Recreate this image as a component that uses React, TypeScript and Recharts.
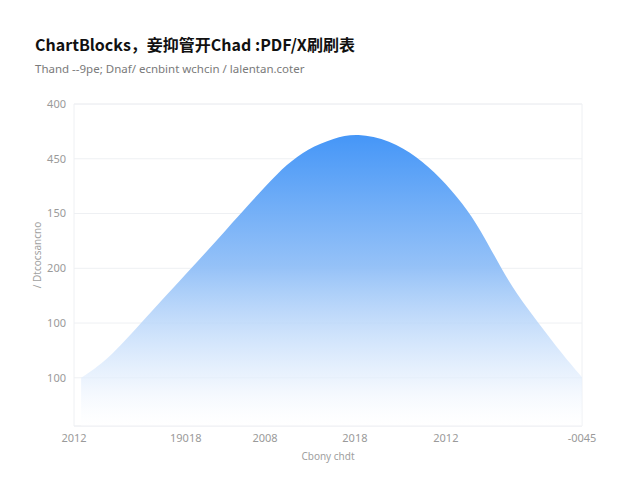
import { AreaChart, Area, XAxis, YAxis, CartesianGrid, ReferenceArea, Label } from 'recharts'

const xPos = [1.4, 6.5, 13.2, 18.3, 23.2, 27.6, 32.1, 38, 41.9, 45.9, 51.2, 55.7, 62.2, 67.5, 72, 76.6, 79.9, 83.9, 87.2, 91.1, 96.3, 100]
const values = [100, 131, 200, 252, 301, 346, 393, 453, 490, 518, 538, 547, 534, 504, 467, 418, 372, 303, 252, 204, 141, 101]

const xTicks = [0, 22, 37.6, 55.3, 73.2, 100]
const xTickLabels = ['2012', '19018', '2008', '2018', '2012', '-0045']
const yTicks = [100, 200, 300, 400, 500, 600]
const yTickLabels = ['100', '100', '200', '150', '450', '400']

const data = xPos.map((x, i) => ({ x, value: values[i] }))

const font = '"Noto Sans", "Noto Sans CJK SC", sans-serif'

export default function App() {
  return (
    <div style={{ position: 'absolute', left: 0, top: 0, width: 640, height: 480, background: '#fff', fontFamily: font }}>
      <div style={{ position: 'absolute', left: 35, top: 32, fontSize: 16, fontWeight: 700, color: '#111', fontFamily: '"Noto Sans CJK SC", "Noto Sans", sans-serif' }}>
        ChartBlocks，妾抑管开Chad :PDF/X刷刷表
      </div>
      <div style={{ position: 'absolute', left: 35, top: 61, fontSize: 11.5, color: '#7a7a7a' }}>
        Thand --9pe; Dnaf/ ecnbint wchcin / lalentan.coter
      </div>
      <AreaChart
        width={640}
        height={480}
        data={data}
        margin={{ top: 104, right: 58, bottom: 20, left: 0 }}
        style={{ position: 'absolute', left: 0, top: 0 }}
      >
        <defs>
          <linearGradient id="bell" x1="0" y1="0" x2="0" y2="1">
            <stop offset="0%" stopColor="#4596f7" stopOpacity={1} />
            <stop offset="45%" stopColor="#8fbef7" stopOpacity={0.95} />
            <stop offset="85%" stopColor="#e6f0fd" stopOpacity={0.7} />
            <stop offset="100%" stopColor="#ffffff" stopOpacity={0.3} />
          </linearGradient>
        </defs>
        <CartesianGrid vertical={false} stroke="#eef0f3" />
        <ReferenceArea x1={0} x2={100} y1={12} y2={600} fill="none" stroke="#eef0f3" ifOverflow="extendDomain" />
        <XAxis
          type="number"
          dataKey="x"
          domain={[0, 100]}
          ticks={xTicks}
          tickFormatter={(v) => xTickLabels[xTicks.indexOf(v)] ?? ''}
          tick={{ fill: '#9a9a9a', fontSize: 11 }}
          tickLine={false}
          axisLine={false}
          height={34}
          interval={0}
        >
          <Label value="Cbony chdt" position="insideBottom" offset={0} fill="#a0a0a0" fontSize={10} />
        </XAxis>
        <YAxis
          type="number"
          domain={[12, 600]}
          ticks={yTicks}
          tickFormatter={(v) => yTickLabels[yTicks.indexOf(v)] ?? ''}
          tick={{ fill: '#9a9a9a', fontSize: 11 }}
          tickLine={false}
          axisLine={false}
          width={74}
          interval={0}
        >
          <Label value="/ Dtcocsancno" angle={-90} position="center" dy={-10} fill="#a0a0a0" fontSize={10} />
        </YAxis>
        <Area
          type="basis"
          dataKey="value"
          stroke="none"
          fill="url(#bell)"
          fillOpacity={1}
          isAnimationActive={false}
        />
      </AreaChart>
    </div>
  )
}
